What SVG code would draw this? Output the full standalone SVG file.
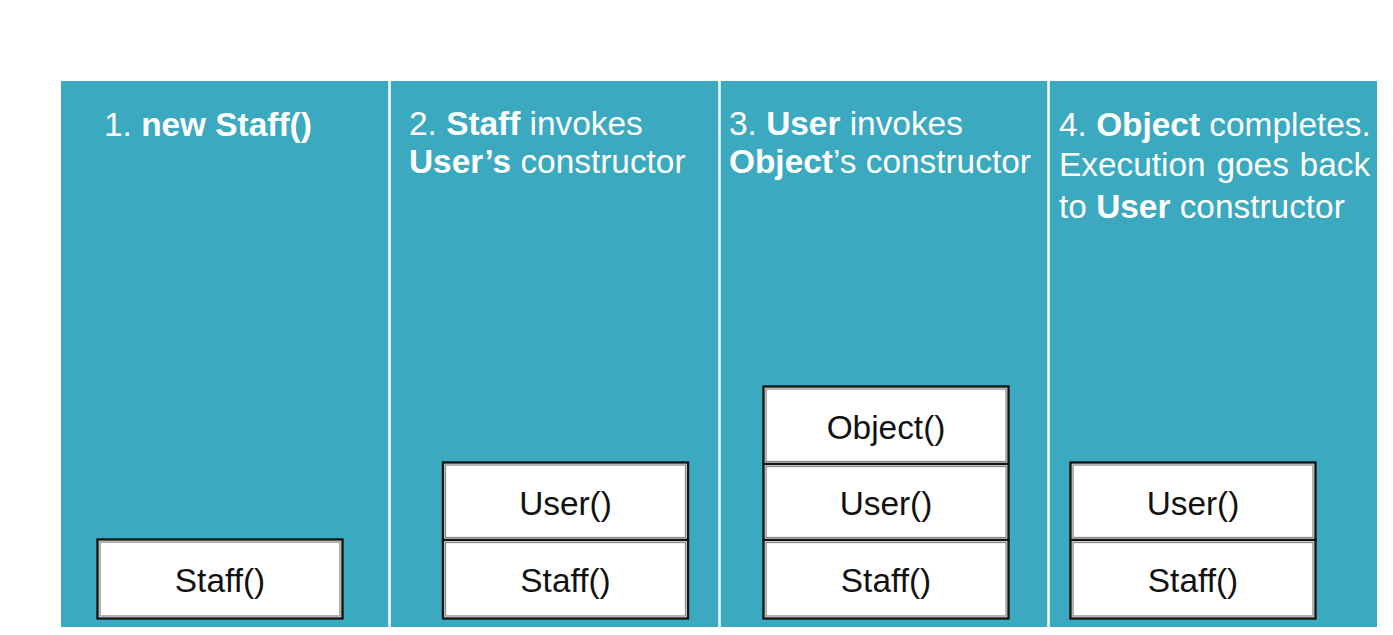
<svg xmlns="http://www.w3.org/2000/svg" width="1393" height="635" viewBox="0 0 1393 635">
<style>
.bg{fill:#3ba9bf}
.div{stroke:#ffffff;stroke-width:2.5}
.h{font-family:"Liberation Sans",Arial,sans-serif;font-size:33.4px;fill:#ffffff}
.b{font-weight:bold}
.box{fill:#ffffff;stroke:#151515;stroke-width:2.4}
.inner{fill:none;stroke:#8a8a8a;stroke-width:1.3}
.t{font-family:"Liberation Sans",Arial,sans-serif;font-size:33.4px;fill:#111111;text-anchor:middle}
</style>
<rect x="0" y="0" width="1393" height="635" fill="#ffffff"/>
<rect class="bg" x="61" y="81" width="1316" height="546"/>
<g id="dividers">
<line class="div" x1="389.5" y1="81" x2="389.5" y2="627"/>
<line class="div" x1="719.5" y1="81" x2="719.5" y2="627"/>
<line class="div" x1="1048.5" y1="81" x2="1048.5" y2="627"/>
</g>
<g id="connectors"/>
<g id="panel1">
<text class="h" x="104" y="136">1. <tspan class="b">new Staff()</tspan></text>
</g>
<g id="panel2">
<text class="h" x="409" y="134.5">2. <tspan class="b">Staff</tspan> invokes</text>
<text class="h" x="409" y="172.5"><tspan class="b">User’s</tspan> constructor</text>
</g>
<g id="panel3">
<text class="h" x="729" y="134.5">3. <tspan class="b">User</tspan> invokes</text>
<text class="h" x="729" y="172.5"><tspan class="b">Object</tspan>’s constructor</text>
</g>
<g id="panel4">
<text class="h" x="1059" y="135.5">4. <tspan class="b">Object</tspan> completes.</text>
<text class="h" x="1059" y="176" word-spacing="1.5">Execution goes back</text>
<text class="h" x="1059" y="218">to <tspan class="b">User</tspan> constructor</text>
</g>
<g id="p1-staff">
<rect class="box" x="97.5" y="539.5" width="245" height="79"/>
<rect class="inner" x="100" y="542" width="240" height="74"/>
<text class="t" x="220" y="592">Staff()</text>
</g>
<g id="p2-user">
<rect class="box" x="443" y="462.5" width="245" height="77.5"/>
<rect class="inner" x="445.5" y="465" width="240" height="72.5"/>
<text class="t" x="565.5" y="515">User()</text>
</g>
<g id="p2-staff">
<rect class="box" x="443" y="540" width="245" height="78.5"/>
<rect class="inner" x="445.5" y="542.5" width="240" height="73.5"/>
<text class="t" x="565.5" y="592">Staff()</text>
</g>
<g id="p3-object">
<rect class="box" x="763.5" y="386.5" width="245" height="77.5"/>
<rect class="inner" x="766" y="389" width="240" height="72.5"/>
<text class="t" x="886" y="439">Object()</text>
</g>
<g id="p3-user">
<rect class="box" x="763.5" y="464" width="245" height="76"/>
<rect class="inner" x="766" y="466.5" width="240" height="71"/>
<text class="t" x="886" y="515">User()</text>
</g>
<g id="p3-staff">
<rect class="box" x="763.5" y="540" width="245" height="78.5"/>
<rect class="inner" x="766" y="542.5" width="240" height="73.5"/>
<text class="t" x="886" y="592">Staff()</text>
</g>
<g id="p4-user">
<rect class="box" x="1070.5" y="462.5" width="245" height="77.5"/>
<rect class="inner" x="1073" y="465" width="240" height="72.5"/>
<text class="t" x="1193" y="515">User()</text>
</g>
<g id="p4-staff">
<rect class="box" x="1070.5" y="540" width="245" height="78.5"/>
<rect class="inner" x="1073" y="542.5" width="240" height="73.5"/>
<text class="t" x="1193" y="592">Staff()</text>
</g>
</svg>
